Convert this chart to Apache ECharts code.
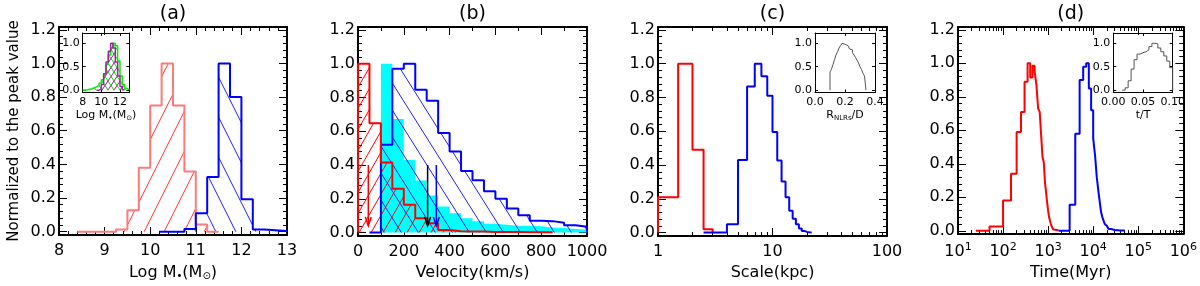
<!DOCTYPE html>
<html><head><meta charset="utf-8">
<script src="https://cdn.jsdelivr.net/npm/echarts@6/dist/echarts.min.js"></script>
<style>html,body{margin:0;padding:0;background:#fff}#c{width:1200px;height:286px}</style>
</head><body><div id="c"></div>
<script>
// ================= DATA =================
// (a) stellar mass histograms (bin edges + normalized heights)
const massRedEdges = [8.4, 9.25, 9.5, 9.75, 10.0, 10.25, 10.5, 10.75, 11.0, 11.25, 11.5];
const massRedVals  = [0, 0.012, 0.127, 0.38, 0.75, 1.0, 0.75, 0.357, 0.042, 0];
const massBlueEdges = [10.2, 10.75, 11.0, 11.25, 11.5, 11.75, 12.0, 12.25, 12.5, 13.0];
const massBlueVals  = [0, 0.015, 0.11, 0.325, 1.0, 0.8, 0.193, 0.012, 0.004];
// (a) inset
const insetMassGreenEdges = [8.0, 8.25, 8.5, 8.75, 9.0, 9.25, 9.5, 9.75, 10.0, 10.25, 10.5, 10.75, 11.0, 11.25, 11.5, 11.75, 12.0, 12.25, 12.5, 12.75, 13.0];
const insetMassGreenVals  = [0.005, 0.01, 0.02, 0.03, 0.05, 0.07, 0.1, 0.15, 0.22, 0.35, 0.55, 0.75, 0.9, 1.0, 0.95, 0.62, 0.3, 0.12, 0.04, 0.01];
const insetMassPurpleEdges = [9.5, 9.75, 10.0, 10.25, 10.5, 10.75, 11.0, 11.25, 11.5, 11.75, 12.0, 12.25, 12.5];
const insetMassPurpleVals  = [0.0, 0.02, 0.12, 0.35, 0.6, 0.83, 1.0, 0.9, 0.6, 0.3, 0.08, 0.01];
// (b) velocity histograms
const velRedEdges = [0, 50, 100, 150, 200, 250, 300, 350, 400, 450, 500, 550, 600, 650, 700, 750, 800, 850];
const velRedVals  = [1.0, 0.647, 0.415, 0.26, 0.165, 0.085, 0.055, 0.015, 0.008, 0.006, 0.006, 0.004, 0.003, 0.003, 0.002, 0.002, 0.002];
const velCyanEdges = [100, 150, 200, 250, 300, 350, 400, 450, 500, 550, 600, 650, 700, 750, 800, 850, 900, 950, 1000];
const velCyanVals  = [1.0, 0.672, 0.43, 0.308, 0.22, 0.155, 0.115, 0.085, 0.068, 0.052, 0.046, 0.041, 0.04, 0.038, 0.03, 0.028, 0.022, 0.018];
const velBlueEdges = [50, 100, 150, 200, 250, 300, 350, 400, 450, 500, 550, 600, 650, 700, 750, 800, 850, 900, 950, 1000];
const velBlueVals  = [0, 0.52, 0.97, 1.0, 0.846, 0.78, 0.59, 0.48, 0.365, 0.31, 0.245, 0.2, 0.143, 0.103, 0.07, 0.068, 0.058, 0.044, 0.035];
// (b) arrows: x position, start value, tip value
const arrowX    = [45, 304, 342];
const arrowTop  = [0.40, 0.40, 0.40];
const arrowTip  = [0.04, 0.04, 0.04];
const arrowColors = ['#ff0000', '#000000', '#0000ff'];
// (c) scale histograms
const scaleRedEdges = [1.0, 1.5, 2.0, 2.5, 3.0];
const scaleRedVals  = [0.21, 1.0, 0.49, 0.02];
const scaleBlueEdges = [2.5, 4, 5, 6, 7, 8, 9, 10, 11, 12, 13, 14, 15, 16, 17, 18, 19, 20, 21, 22];
const scaleBlueVals  = [0, 0.05, 0.43, 0.865, 1.0, 0.925, 0.81, 0.596, 0.427, 0.303, 0.21, 0.13, 0.082, 0.05, 0.025, 0.01, 0.004, 0.002, 0.001];
// (c) inset R_NLRs/D
const ratioEdges = [0.10, 0.11, 0.12, 0.13, 0.14, 0.15, 0.16, 0.17, 0.18, 0.19, 0.20, 0.21, 0.22, 0.23, 0.24, 0.25, 0.26, 0.27, 0.28, 0.29, 0.30, 0.31, 0.32, 0.33, 0.34];
const ratioVals  = [0.39, 0.45, 0.55, 0.65, 0.75, 0.82, 0.9, 0.95, 1.0, 0.98, 0.96, 0.95, 0.92, 0.88, 0.86, 0.8, 0.75, 0.7, 0.64, 0.58, 0.5, 0.44, 0.36, 0.3];
// (d) time histograms
const timeRedEdges = [25, 50, 100, 150, 200, 250, 300, 350, 400, 450, 500, 550, 600, 650, 700, 750, 800, 850, 900, 950, 1000, 1050, 1100, 1150, 1200, 1250, 1300, 1400, 1700];
const timeRedVals  = [0, 0.025, 0.18, 0.34, 0.59, 0.71, 0.89, 1.0, 0.915, 0.985, 0.955, 0.87, 0.73, 0.71, 0.57, 0.44, 0.41, 0.29, 0.23, 0.17, 0.12, 0.08, 0.06, 0.04, 0.025, 0.015, 0.008, 0.003];
const timeBlueEdges = [1700, 3000, 4000, 5000, 6000, 7000, 8000, 9000, 10000, 11000, 12000, 13000, 14000, 15000, 16000, 17000, 18000, 19000, 20000, 22000, 25000, 30000, 40000, 50000];
const timeBlueVals  = [0, 0.155, 0.58, 0.9, 0.98, 1.0, 0.85, 0.72, 0.55, 0.45, 0.32, 0.24, 0.17, 0.11, 0.08, 0.06, 0.04, 0.03, 0.02, 0.01, 0.005, 0.002, 0.001];
// (d) inset t/T
const tTEdges = [0.015, 0.02, 0.025, 0.03, 0.035, 0.04, 0.045, 0.05, 0.055, 0.06, 0.065, 0.07, 0.075, 0.08, 0.085, 0.09, 0.095, 0.1];
const tTVals  = [0.0, 0.05, 0.2, 0.45, 0.65, 0.77, 0.8, 0.82, 0.86, 0.93, 1.0, 0.99, 0.9, 0.82, 0.73, 0.62, 0.48];

// tick labels
const yTicks = [0, 0.2, 0.4, 0.6, 0.8, 1.0, 1.2];
const massTicks = [8, 9, 10, 11, 12, 13];
const velTicks = [0, 200, 400, 600, 800, 1000];
const scaleTicks = [1, 10, 100];
const timeTicks = [10, 100, 1000, 10000, 100000, 1000000];
const insetYTicks = [0, 0.5, 1.0];
const insetMassTicks = [8, 10, 12];
const ratioTicks = [0, 0.2, 0.4];
const tTTicks = [0, 0.05, 0.1];
const titles = ['(a)', '(b)', '(c)', '(d)'];

// ================= BUILD =================
const FONT = 'DejaVu Sans';
function mkHatch(color, d, h, dir, lw) {
  const c = document.createElement('canvas'); c.width = d; c.height = h;
  const g = c.getContext('2d'); g.strokeStyle = color; g.lineWidth = lw;
  for (const off of [-d, 0, d]) {
    g.beginPath();
    if (dir === '/') { g.moveTo(off, h); g.lineTo(off + d, 0); }
    else { g.moveTo(off, 0); g.lineTo(off + d, h); }
    g.stroke();
  }
  return { image: c, repeat: 'repeat' };
}
function stepData(edges, vals) {
  const d = [[edges[0], 0]];
  for (let i = 0; i < vals.length; i++) d.push([edges[i], vals[i]]);
  d.push([edges[edges.length - 1], 0]);
  return d;
}
function range(a, b, s) { const r = []; for (let v = a; v <= b + 1e-9; v += s) r.push(+v.toFixed(6)); return r; }
function minorsOf(all, majors) { return all.filter(v => !majors.some(m => Math.abs(m - v) < 1e-9)); }
function logMinors(lo, hi) { const r = []; for (let p = lo; p < hi; p *= 10) for (let k = 2; k <= 9; k++) r.push(p * k); return r; }

const option = { animation: false, textStyle: { fontFamily: FONT, color: '#000' }, grid: [], xAxis: [], yAxis: [], series: [] };
function addGrid(l, t, w, h) { option.grid.push({ left: l, top: t, width: w, height: h, show: false }); return option.grid.length - 1; }
function addAxes(dim, gi, o) {
  const arr = dim === 'x' ? option.xAxis : option.yAxis;
  const pos = dim === 'x' ? ['bottom', 'top'] : ['left', 'right'];
  const base = (p, ticks, len, line) => {
    const ax = {
      gridIndex: gi, type: o.type, min: o.min, max: o.max, position: p,
      axisLine: { show: line, onZero: false, lineStyle: { color: '#000', width: o.lw } },
      axisTick: { show: true, inside: true, length: len, customValues: ticks, lineStyle: { color: '#000', width: 1 } },
      axisLabel: { show: false, customValues: ticks },
      splitLine: { show: false }, minorTick: { show: false }, minorSplitLine: { show: false }
    };
    if (o.type === 'log') ax.logBase = 10;
    return ax;
  };
  const primary = base(pos[0], o.majors, o.majLen, true);
  primary.axisLabel = { show: o.labels !== false, customValues: o.majors, formatter: o.fmt, fontSize: o.fs, margin: o.margin, color: '#000', fontFamily: FONT, rich: o.rich || {} };
  if (o.name) {
    primary.name = o.name; primary.nameLocation = 'middle'; primary.nameGap = o.nameGap;
    primary.nameRotate = dim === 'y' ? 90 : 0;
    primary.nameTextStyle = { fontSize: o.nfs, color: '#000', fontFamily: FONT, rich: o.nameRich || {} };
  }
  arr.push(primary); const idx = arr.length - 1;
  const mirror = base(pos[1], o.majors, o.majLen, true);
  if (o.title) { mirror.name = o.title; mirror.nameLocation = 'middle'; mirror.nameGap = o.titleGap; mirror.nameTextStyle = { fontSize: o.tfs, color: '#000', fontFamily: FONT }; }
  arr.push(mirror);
  if (o.minors && o.minors.length) { arr.push(base(pos[0], o.minors, o.minLen, false)); arr.push(base(pos[1], o.minors, o.minLen, false)); }
  return idx;
}
function hist(xi, yi, edges, vals, color, lw, fill, z) {
  const s = { type: 'line', xAxisIndex: xi, yAxisIndex: yi, step: 'end', symbol: 'none', showSymbol: false, silent: true,
    data: stepData(edges, vals), lineStyle: { color: color, width: lw, opacity: lw > 0 ? 1 : 0 }, clip: true, z: z || 3 };
  if (fill) s.areaStyle = { color: fill, opacity: 1 };
  option.series.push(s);
}

const subRich = { s: { fontSize: 10, padding: [7, 0, 0, 0], fontFamily: FONT, color: '#000' } };
const subRichSmall = { s: { fontSize: 7, padding: [5, 0, 0, 0], fontFamily: FONT, color: '#000' } };
const fmt1 = v => v.toFixed(1);
const TOP = 25, H = 211, YMIN = -0.02, YMAX = 1.217;
const panels = [
  { l: 59, w: 228, type: 'value', min: 8, max: 13, majors: massTicks, minors: minorsOf(range(8, 13, 0.2), massTicks), fmt: v => String(v), name: 'Log M{s|•}(M{s|⊙})', nameRich: subRich },
  { l: 358, w: 229, type: 'value', min: 0, max: 1000, majors: velTicks, minors: minorsOf(range(0, 1000, 100), velTicks), fmt: v => String(v), name: 'Velocity(km/s)' },
  { l: 658, w: 229, type: 'log', min: 1, max: 100, majors: scaleTicks, minors: logMinors(1, 100), fmt: v => String(Math.round(v)), name: 'Scale(kpc)' },
  { l: 958, w: 229, type: 'log', min: 10, max: 1000000, majors: timeTicks, minors: logMinors(10, 1000000), fmt: v => '10{sup|' + Math.round(Math.log10(v)) + '}', rich: { sup: { fontSize: 11, padding: [0, 0, 9, 0], fontFamily: FONT, color: '#000' } }, name: 'Time(Myr)' }
];
const ax = [];
panels.forEach((p, i) => {
  const gi = addGrid(p.l, TOP, p.w, H);
  const xi = addAxes('x', gi, { type: p.type, min: p.min, max: p.max, majors: p.majors, minors: p.minors, fmt: p.fmt, rich: p.rich, fs: 16, margin: 8, lw: 2, majLen: 8, minLen: 4,
    name: p.name, nameGap: 29, nfs: 16, nameRich: p.nameRich, title: titles[i], titleGap: 3, tfs: 19 });
  const yi = addAxes('y', gi, { type: 'value', min: YMIN, max: YMAX, majors: yTicks, minors: minorsOf(range(0, 1.2, 0.04), yTicks), fmt: fmt1, fs: 16, margin: 3, lw: 2, majLen: 8, minLen: 4,
    name: i === 0 ? 'Normalized to the peak value' : null, nameGap: 37, nfs: 15 });
  ax.push([xi, yi]);
});
// insets
const IT = 33, IH = 59.5, IYMIN = -0.05, IYMAX = 1.22;
const insets = [
  { l: 82.7, w: 46.6, min: 8, max: 13, majors: insetMassTicks, fmt: v => String(v), name: 'Log M{s|•}(M{s|⊙})', nameRich: subRichSmall },
  { l: 815, w: 60, min: 0, max: 0.4, majors: ratioTicks, fmt: fmt1, name: 'R{s|NLRs}/D', nameRich: subRichSmall },
  { l: 1113.3, w: 59.4, min: 0, max: 0.1, majors: tTTicks, fmt: v => v.toFixed(2), name: 't/T' }
];
const iax = [];
insets.forEach(p => {
  const gi = addGrid(p.l, IT, p.w, IH);
  const xi = addAxes('x', gi, { type: 'value', min: p.min, max: p.max, majors: p.majors, minors: [], fmt: p.fmt, fs: 11, margin: 4, lw: 1, majLen: 3, minLen: 2,
    name: p.name, nameGap: 17, nfs: 11, nameRich: p.nameRich });
  const yi = addAxes('y', gi, { type: 'value', min: IYMIN, max: IYMAX, majors: insetYTicks, minors: [], fmt: fmt1, fs: 11, margin: 3, lw: 1, majLen: 3, minLen: 2 });
  iax.push([xi, yi]);
});

// hatch fills
const hA_red = mkHatch('#ff3030', 20, 40, '/', 1);
const hA_blue = mkHatch('#2020ff', 20, 40, '\\', 1);
const hB_red = mkHatch('#ff0000', 12, 21, '/', 1);
const hB_blue = mkHatch('#2020ff', 17, 27, '\\', 1);
const hI_green = mkHatch('#00dd00', 6, 9, '\\', 1);
const hI_purple = mkHatch('#a020a0', 6, 9, '/', 1);

// (a)
hist(ax[0][0], ax[0][1], massRedEdges, massRedVals, '#ff7a7a', 2, hA_red);
hist(ax[0][0], ax[0][1], massBlueEdges, massBlueVals, '#0000ff', 2, hA_blue);
// (b)
hist(ax[1][0], ax[1][1], velCyanEdges, velCyanVals, '#00ffff', 0, '#00ffff', 2);
hist(ax[1][0], ax[1][1], velBlueEdges, velBlueVals, '#0000ff', 2, hB_blue);
hist(ax[1][0], ax[1][1], velRedEdges, velRedVals, '#ff0000', 2, hB_red);
option.series.push({
  type: 'custom', xAxisIndex: ax[1][0], yAxisIndex: ax[1][1], silent: true, z: 6,
  data: arrowX.map((x, i) => [x, arrowTop[i], arrowTip[i], i]),
  encode: { x: 0, y: [1, 2] },
  renderItem: (params, api) => {
    const x = api.value(0), c = arrowColors[api.value(3)];
    const p0 = api.coord([x, api.value(1)]), p1 = api.coord([x, api.value(2)]);
    return { type: 'group', children: [
      { type: 'line', shape: { x1: p0[0], y1: p0[1], x2: p1[0], y2: p1[1] }, style: { stroke: c, lineWidth: 1.5 } },
      { type: 'polyline', shape: { points: [[p1[0] - 3, p1[1] - 9], [p1[0], p1[1]], [p1[0] + 3, p1[1] - 9]] }, style: { stroke: c, lineWidth: 1.5, fill: null } }
    ] };
  }
});
// (c)
hist(ax[2][0], ax[2][1], scaleRedEdges, scaleRedVals, '#ff0000', 2, null);
hist(ax[2][0], ax[2][1], scaleBlueEdges, scaleBlueVals, '#0000ff', 2, null);
// (d)
hist(ax[3][0], ax[3][1], timeRedEdges, timeRedVals, '#ff0000', 2, null);
hist(ax[3][0], ax[3][1], timeBlueEdges, timeBlueVals, '#0000ff', 2, null);
// insets
hist(iax[0][0], iax[0][1], insetMassGreenEdges, insetMassGreenVals, '#00ee00', 1.5, hI_green);
hist(iax[0][0], iax[0][1], insetMassPurpleEdges, insetMassPurpleVals, '#a020a0', 1.5, hI_purple);
hist(iax[1][0], iax[1][1], ratioEdges, ratioVals, '#555555', 1, null);
hist(iax[2][0], iax[2][1], tTEdges, tTVals, '#555555', 1, null);

const chart = echarts.init(document.getElementById('c'), null, { renderer: 'canvas' });
chart.setOption(option);
</script>
</body></html>
